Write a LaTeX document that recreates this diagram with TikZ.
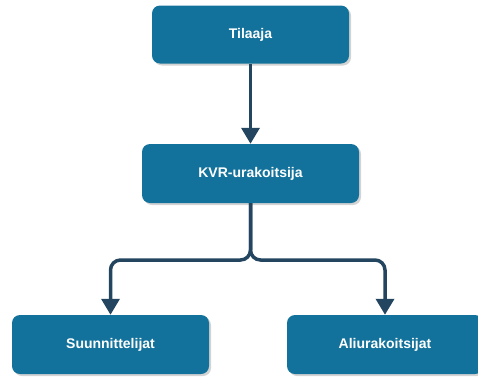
\documentclass[tikz,border=0pt]{standalone}
\usepackage{fontspec}
\setmainfont{Liberation Sans}
\usetikzlibrary{arrows.meta,shadows}
\definecolor{boxblue}{HTML}{13729B}
\definecolor{linenavy}{HTML}{234560}
\tikzset{
  orgbox/.style={draw=none, fill=boxblue, rounded corners=8pt, minimum width=#1, minimum height=58pt,
    text=white, font=\fontsize{14}{16}\selectfont\bfseries, inner sep=0pt,
    drop shadow={shadow xshift=2pt, shadow yshift=-2pt, opacity=0.35, fill=gray}},
  conn/.style={draw=linenavy, line width=3.5pt, rounded corners=10pt,
    -{Triangle[width=18pt,length=16pt]}}
}
\begin{document}
\begin{tikzpicture}[x=1pt,y=-1pt]
\useasboundingbox (0,0) rectangle (478,376);
\clip (0,0) rectangle (478,376);
\node[orgbox=197pt] (tilaaja) at (250.5,34.5) {Tilaaja};
\node[orgbox=217pt, minimum height=59pt] (kvr) at (250.5,173.5) {KVR-urakoitsija};
\node[orgbox=197pt, minimum height=59pt] (suun) at (110.5,344.5) {Suunnittelijat};
\node[orgbox=196pt, minimum height=59pt] (ali) at (385,344.5) {Aliurakoitsijat};
\coordinate (junc) at (250.5,260);
\draw[conn] (tilaaja.south) -- (kvr.north);
\draw[conn] (kvr.south) -- (junc) -| (suun.north);
\draw[conn] (kvr.south) -- (junc) -| (ali.north);
\end{tikzpicture}
\end{document}
